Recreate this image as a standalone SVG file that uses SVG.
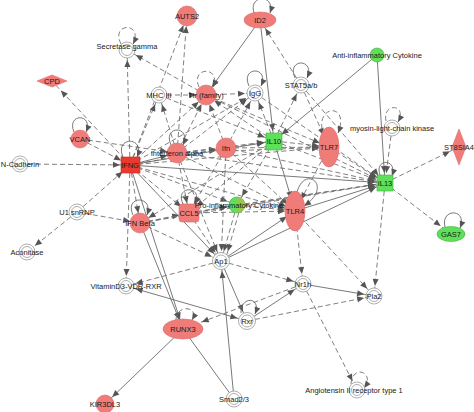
<svg xmlns="http://www.w3.org/2000/svg" width="474" height="412" viewBox="0 0 474 412">
<defs>
<style>
.s{stroke:#6a6a6a;stroke-width:0.9;fill:none}
.d{stroke:#727272;stroke-width:0.9;fill:none;stroke-dasharray:5 3}
.t{font-family:"Liberation Sans",Arial,sans-serif;font-size:7.5px;fill:#1a1a1a;text-anchor:middle}
.w{fill:#fff;stroke:#9a9a9a;stroke-width:0.8}
.wi{fill:none;stroke:#9a9a9a;stroke-width:0.8}
.r{fill:#f07c7a;stroke:#dd6a68;stroke-width:0.6}
.R{fill:#ea3a30;stroke:#c82a22;stroke-width:0.6}
.g{fill:#5fe05a;stroke:#3fae3a;stroke-width:0.6}
</style>
<marker id="a" markerUnits="userSpaceOnUse" viewBox="0 0 7 6" markerWidth="7" markerHeight="6" refX="17" refY="3" orient="auto" overflow="visible"><path d="M0,0 L7,3 L0,6 z" fill="#555"/></marker>
<marker id="b" markerUnits="userSpaceOnUse" viewBox="0 0 7 6" markerWidth="7" markerHeight="6" refX="20" refY="3" orient="auto" overflow="visible"><path d="M0,0 L7,3 L0,6 z" fill="#555"/></marker>
<marker id="c" markerUnits="userSpaceOnUse" viewBox="0 0 7 6" markerWidth="7" markerHeight="6" refX="27" refY="3" orient="auto" overflow="visible"><path d="M0,0 L7,3 L0,6 z" fill="#555"/></marker>
<marker id="z" markerUnits="userSpaceOnUse" viewBox="0 0 7 6" markerWidth="7" markerHeight="6" refX="7" refY="3" orient="auto" overflow="visible"><path d="M0,0 L7,3 L0,6 z" fill="#555"/></marker>
<marker id="as" markerUnits="userSpaceOnUse" viewBox="0 0 7 6" markerWidth="7" markerHeight="6" refX="-10" refY="3" orient="auto" overflow="visible"><path d="M7,0 L0,3 L7,6 z" fill="#555"/></marker>
</defs>
<rect width="474" height="412" fill="#fff"/>
<g id="connectors">
<line class="s" x1="260" y1="20" x2="274" y2="141" marker-end="url(#a)"/>
<line class="s" x1="260" y1="20" x2="206" y2="95" marker-end="url(#a)"/>
<line class="d" x1="301" y1="85" x2="260" y2="20" marker-end="url(#a)"/>
<line class="s" x1="377" y1="55" x2="274" y2="141" marker-end="url(#a)"/>
<line class="s" x1="377" y1="55" x2="385" y2="183" marker-end="url(#a)"/>
<line class="d" x1="130" y1="165" x2="127" y2="50" marker-end="url(#a)"/>
<line class="d" x1="130" y1="165" x2="52" y2="81" marker-end="url(#b)"/>
<line class="d" x1="130" y1="165" x2="187" y2="16" marker-end="url(#a)"/>
<line class="d" x1="177" y1="153" x2="187" y2="16" marker-end="url(#a)"/>
<line class="d" x1="206" y1="95" x2="127" y2="50" marker-end="url(#a)"/>
<line class="d" x1="80" y1="139" x2="130" y2="165" marker-end="url(#a)"/>
<line class="d" x1="20" y1="164" x2="130" y2="165" marker-end="url(#a)"/>
<line class="d" x1="77" y1="212" x2="130" y2="165" marker-end="url(#a)"/>
<line class="d" x1="77" y1="212" x2="27" y2="252" marker-end="url(#a)"/>
<line class="d" x1="77" y1="212" x2="140" y2="223" marker-end="url(#a)"/>
<line class="d" x1="130" y1="165" x2="126" y2="286" marker-end="url(#a)"/>
<line class="d" x1="130" y1="165" x2="159" y2="95" marker-end="url(#a)"/>
<line class="d" x1="130" y1="165" x2="206" y2="95" marker-end="url(#a)"/>
<line class="d" x1="130" y1="165" x2="255" y2="93" marker-end="url(#a)"/>
<line class="s" x1="130" y1="165" x2="177" y2="153" marker-end="url(#a)"/>
<line class="d" x1="130" y1="165" x2="226" y2="148" marker-end="url(#a)"/>
<line class="s" x1="130" y1="165" x2="274" y2="141" marker-end="url(#a)"/>
<line class="d" x1="130" y1="165" x2="329" y2="147" marker-end="url(#a)"/>
<line class="s" x1="130" y1="165" x2="385" y2="183" marker-end="url(#a)"/>
<line class="d" x1="130" y1="165" x2="189" y2="213" marker-end="url(#a)"/>
<line class="d" x1="130" y1="165" x2="237" y2="205" marker-end="url(#a)"/>
<line class="d" x1="130" y1="165" x2="295" y2="211" marker-end="url(#a)"/>
<line class="s" x1="130" y1="165" x2="221" y2="261" marker-end="url(#a)"/>
<line class="d" x1="130" y1="165" x2="140" y2="223" marker-end="url(#a)"/>
<line class="s" x1="130" y1="165" x2="183" y2="329" marker-end="url(#a)"/>
<line class="s" x1="140" y1="223" x2="183" y2="329" marker-end="url(#a)"/>
<line class="d" x1="80" y1="139" x2="177" y2="153" marker-end="url(#a)"/>
<line class="d" x1="159" y1="95" x2="206" y2="95" marker-end="url(#a)"/>
<line class="d" x1="206" y1="95" x2="255" y2="93" marker-end="url(#a)"/>
<line class="d" x1="159" y1="95" x2="274" y2="141" marker-end="url(#a)"/>
<line class="d" x1="177" y1="153" x2="206" y2="95" marker-end="url(#a)"/>
<line class="d" x1="177" y1="153" x2="255" y2="93" marker-end="url(#a)"/>
<line class="d" x1="177" y1="153" x2="226" y2="148" marker-end="url(#a)"/>
<line class="d" x1="177" y1="153" x2="274" y2="141" marker-end="url(#a)"/>
<line class="d" x1="177" y1="153" x2="329" y2="147" marker-end="url(#a)"/>
<line class="d" x1="177" y1="153" x2="385" y2="183" marker-end="url(#a)"/>
<line class="d" x1="177" y1="153" x2="189" y2="213" marker-end="url(#a)"/>
<line class="d" x1="177" y1="153" x2="295" y2="211" marker-end="url(#a)"/>
<line class="d" x1="177" y1="153" x2="221" y2="261" marker-end="url(#a)"/>
<line class="d" x1="177" y1="153" x2="159" y2="95" marker-end="url(#a)"/>
<line class="d" x1="226" y1="148" x2="274" y2="141" marker-end="url(#a)"/>
<line class="d" x1="226" y1="148" x2="329" y2="147" marker-end="url(#a)"/>
<line class="d" x1="226" y1="148" x2="385" y2="183" marker-end="url(#a)"/>
<line class="d" x1="226" y1="148" x2="206" y2="95" marker-end="url(#a)"/>
<line class="d" x1="226" y1="148" x2="255" y2="93" marker-end="url(#a)"/>
<line class="d" x1="226" y1="148" x2="189" y2="213" marker-end="url(#a)"/>
<line class="d" x1="226" y1="148" x2="295" y2="211" marker-end="url(#a)"/>
<line class="d" x1="226" y1="148" x2="221" y2="261" marker-end="url(#a)"/>
<line class="d" x1="274" y1="141" x2="329" y2="147" marker-end="url(#a)"/>
<line class="d" x1="274" y1="141" x2="385" y2="183" marker-end="url(#a)"/>
<line class="d" x1="274" y1="141" x2="301" y2="85" marker-end="url(#a)"/>
<line class="d" x1="274" y1="141" x2="255" y2="93" marker-end="url(#a)"/>
<line class="d" x1="274" y1="141" x2="206" y2="95" marker-end="url(#a)"/>
<line class="d" x1="274" y1="141" x2="189" y2="213" marker-end="url(#a)"/>
<line class="d" x1="274" y1="141" x2="237" y2="205" marker-end="url(#a)"/>
<line class="s" x1="274" y1="141" x2="295" y2="211" marker-end="url(#b)"/>
<line class="d" x1="274" y1="141" x2="140" y2="223" marker-end="url(#a)"/>
<line class="d" x1="329" y1="147" x2="385" y2="183" marker-end="url(#a)"/>
<line class="d" x1="301" y1="85" x2="329" y2="147" marker-end="url(#b)"/>
<line class="d" x1="301" y1="85" x2="385" y2="183" marker-end="url(#a)"/>
<line class="d" x1="206" y1="95" x2="385" y2="183" marker-end="url(#a)"/>
<line class="d" x1="206" y1="95" x2="329" y2="147" marker-end="url(#a)"/>
<line class="d" x1="392" y1="128" x2="385" y2="183" marker-end="url(#a)"/>
<line class="d" x1="385" y1="183" x2="459" y2="147" marker-end="url(#a)"/>
<line class="d" x1="385" y1="183" x2="451" y2="234" marker-end="url(#b)"/>
<line class="d" x1="385" y1="183" x2="374" y2="296" marker-end="url(#a)"/>
<line class="d" x1="189" y1="213" x2="385" y2="183" marker-end="url(#a)"/>
<line class="d" x1="237" y1="205" x2="385" y2="183" marker-end="url(#a)"/>
<line class="s" x1="295" y1="211" x2="385" y2="183" marker-end="url(#a)"/>
<line class="s" x1="221" y1="261" x2="385" y2="183" marker-end="url(#a)"/>
<line class="d" x1="140" y1="223" x2="385" y2="183" marker-end="url(#a)"/>
<line class="d" x1="189" y1="213" x2="237" y2="205" marker-end="url(#a)"/>
<line class="d" x1="189" y1="213" x2="295" y2="211" marker-end="url(#a)"/>
<line class="d" x1="189" y1="213" x2="221" y2="261" marker-end="url(#a)"/>
<line class="d" x1="140" y1="223" x2="189" y2="213" marker-end="url(#a)"/>
<line class="d" x1="140" y1="223" x2="221" y2="261" marker-end="url(#a)"/>
<line class="d" x1="140" y1="223" x2="237" y2="205" marker-end="url(#a)"/>
<line class="d" x1="237" y1="205" x2="221" y2="261" marker-end="url(#a)"/>
<line class="d" x1="241" y1="205" x2="225" y2="261" marker-end="url(#a)"/>
<line class="d" x1="237" y1="205" x2="295" y2="211" marker-end="url(#a)"/>
<line class="s" x1="221" y1="261" x2="295" y2="211" marker-end="url(#a)"/>
<line class="d" x1="295" y1="211" x2="303" y2="284" marker-end="url(#a)"/>
<line class="d" x1="221" y1="261" x2="126" y2="286" marker-end="url(#a)"/>
<line class="s" x1="234" y1="399" x2="221" y2="261" marker-end="url(#a)"/>
<line class="s" x1="221" y1="261" x2="247" y2="321" marker-end="url(#a)"/>
<line class="s" x1="126" y1="286" x2="247" y2="321" marker-end="url(#a)" marker-start="url(#as)"/>
<line class="s" x1="247" y1="321" x2="303" y2="284" marker-end="url(#a)"/>
<line class="d" x1="247" y1="321" x2="374" y2="296" marker-end="url(#a)"/>
<line class="d" x1="303" y1="284" x2="183" y2="329" marker-end="url(#c)"/>
<line class="s" x1="303" y1="284" x2="374" y2="296" marker-end="url(#a)"/>
<line class="d" x1="303" y1="284" x2="357" y2="390" marker-end="url(#a)"/>
<line class="s" x1="183" y1="329" x2="105" y2="404" marker-end="url(#a)"/>
<line class="s" x1="183" y1="329" x2="234" y2="399"/>
<line class="d" x1="329" y1="147" x2="295" y2="211" marker-end="url(#b)"/>
<line class="d" x1="255" y1="93" x2="385" y2="183" marker-end="url(#a)"/>
<line class="d" x1="295" y1="211" x2="374" y2="296" marker-end="url(#a)"/>
<line class="d" x1="221" y1="261" x2="303" y2="284" marker-end="url(#a)"/>
<!-- self loops -->
<path class="d" d="M121,44 C110,22 144,22 133,44" marker-end="url(#z)"/>
<path class="s" d="M249,86 C240,66 270,66 261,86" marker-end="url(#z)"/>
<path class="s" d="M295,78 C286,58 316,58 307,78" marker-end="url(#z)"/>
<path class="d" d="M199,87 C190,66 222,66 213,87" marker-end="url(#z)"/>
<path class="s" d="M254,13 C248,-6 276,-6 270,13" marker-end="url(#z)"/>
<path class="s" d="M74,132 C66,113 94,113 86,132" marker-end="url(#z)"/>
<path class="s" d="M123,157 C114,136 146,136 137,157" marker-end="url(#z)"/>
<path class="s" d="M171,145 C162,125 192,125 183,145" marker-end="url(#z)"/>
<path class="s" d="M133,215 C124,195 154,195 147,215" marker-end="url(#z)"/>
<path class="s" d="M183,204 C174,185 204,185 195,204" marker-end="url(#z)"/>
<path class="s" d="M297,192 C305,164 334,186 304,206" marker-end="url(#z)"/>
<path class="s" d="M380,175 C374,158 398,158 392,176" marker-end="url(#z)"/>
<path class="s" d="M445,227 C440,208 468,208 460,228" marker-end="url(#z)"/>
<path class="d" d="M351,384 C352,364 376,372 364,388" marker-end="url(#z)"/>
<path class="d" d="M176,320 C176,304 200,306 192,320" marker-end="url(#z)"/>
<path class="s" d="M241,313 C240,296 262,296 255,314" marker-end="url(#z)"/>
<path class="d" d="M386,121 C382,102 408,104 398,122" marker-end="url(#z)"/>
<path class="d" d="M322,129 C318,104 350,104 338,133" marker-end="url(#z)"/>
</g>
<g id="nodes">
<g id="n-AUTS2"><circle class="r" cx="187" cy="16" r="10"/><text class="t" x="187" y="18.7">AUTS2</text></g>
<g id="n-ID2"><ellipse class="r" cx="260" cy="20" rx="16" ry="8"/><text class="t" x="260" y="22.7">ID2</text></g>
<g id="n-SecretaseGamma"><circle class="w" cx="127" cy="50" r="8"/><circle class="wi" cx="127" cy="50" r="5.5"/><text class="t" x="127" y="49">Secretase gamma</text></g>
<g id="n-CPD"><path class="r" d="M37,81 L52,75 L67,81 L52,87 z"/><text class="t" x="52" y="83.7">CPD</text></g>
<g id="n-MHCIII"><circle class="w" cx="159" cy="95" r="8"/><circle class="wi" cx="159" cy="95" r="5.5"/><text class="t" x="159" y="97.7">MHC III</text></g>
<g id="n-TlrFamily"><circle class="r" cx="206" cy="95" r="10"/><text class="t" x="206" y="97.7">Tlr (family)</text></g>
<g id="n-IgG"><circle class="w" cx="255" cy="93" r="8"/><circle class="wi" cx="255" cy="93" r="5.5"/><text class="t" x="255" y="95.7">IgG</text></g>
<g id="n-STAT5ab"><circle class="w" cx="301" cy="85" r="8"/><circle class="wi" cx="301" cy="85" r="5.5"/><text class="t" x="301" y="87.7">STAT5a/b</text></g>
<g id="n-AntiInflammatory"><circle class="g" cx="377" cy="55" r="7"/><text class="t" x="377" y="57.7">Anti-inflammatory Cytokine</text></g>
<g id="n-MLCK"><circle class="w" cx="392" cy="128" r="8"/><circle class="wi" cx="392" cy="128" r="5.5"/><text class="t" x="392" y="130.7">myosin-light-chain kinase</text></g>
<g id="n-TLR7"><ellipse class="r" cx="329" cy="147" rx="10" ry="20"/><text class="t" x="329" y="149.7">TLR7</text></g>
<g id="n-ST8SIA4"><path class="r" d="M459,129 L466,147 L459,165 L452,147 z"/><text class="t" x="459" y="149.7">ST8SIA4</text></g>
<g id="n-IL13"><rect class="g" x="377" y="175" width="16" height="16"/><text class="t" x="385" y="185.7">IL13</text></g>
<g id="n-GAS7"><ellipse class="g" cx="451" cy="234" rx="14" ry="7.5"/><text class="t" x="451" y="236.7">GAS7</text></g>
<g id="n-IL10"><rect class="g" x="266" y="133" width="16" height="17"/><text class="t" x="274" y="143.7">IL10</text></g>
<g id="n-Ifn"><circle class="r" cx="226" cy="148" r="10"/><text class="t" x="226" y="150.7">Ifn</text></g>
<g id="n-InterferonAlpha"><circle class="r" cx="177" cy="153" r="10"/><text class="t" x="177" y="155.7">Interferon alpha</text></g>
<g id="n-IFNG"><rect class="R" x="121" y="157" width="19" height="16"/><text class="t" x="130" y="167.7">IFNG</text></g>
<g id="n-VCAN"><circle class="r" cx="80" cy="139" r="9"/><text class="t" x="80" y="141.7">VCAN</text></g>
<g id="n-NCadherin"><circle class="w" cx="20" cy="164" r="8"/><circle class="wi" cx="20" cy="164" r="5.5"/><text class="t" x="20" y="166.7">N-Cadherin</text></g>
<g id="n-U1snRNP"><circle class="w" cx="77" cy="212" r="8"/><circle class="wi" cx="77" cy="212" r="5.5"/><text class="t" x="77" y="214.7">U1 snRNP</text></g>
<g id="n-Aconitase"><circle class="w" cx="27" cy="252" r="8"/><circle class="wi" cx="27" cy="252" r="5.5"/><text class="t" x="27" y="254.7">Aconitase</text></g>
<g id="n-IFNBeta"><circle class="r" cx="140" cy="223" r="10"/><text class="t" x="140" y="225.7">IFN Beta</text></g>
<g id="n-CCL5"><rect class="r" x="179" y="204" width="20" height="18" rx="3"/><text class="t" x="189" y="215.7">CCL5</text></g>
<g id="n-ProInflammatory"><circle class="g" cx="237" cy="205" r="8"/><path d="M237,197 A8,8 0 0 1 237,213 z" fill="#c8b040" opacity="0.55"/><text class="t" x="239" y="207.7">Pro-inflammatory Cytokine</text></g>
<g id="n-TLR4"><ellipse class="r" cx="295" cy="211" rx="10" ry="20"/><text class="t" x="295" y="213.7">TLR4</text></g>
<g id="n-Ap1"><circle class="w" cx="221" cy="261" r="8.5"/><circle class="wi" cx="221" cy="261" r="6"/><text class="t" x="221" y="263.7">Ap1</text></g>
<g id="n-VitaminD3"><circle class="w" cx="126" cy="286" r="8"/><circle class="wi" cx="126" cy="286" r="5.5"/><text class="t" x="126" y="288.7">VitaminD3-VDR-RXR</text></g>
<g id="n-Nr1h"><circle class="w" cx="303" cy="284" r="8"/><circle class="wi" cx="303" cy="284" r="5.5"/><text class="t" x="303" y="286.7">Nr1h</text></g>
<g id="n-Pla2"><circle class="w" cx="374" cy="296" r="8"/><circle class="wi" cx="374" cy="296" r="5.5"/><text class="t" x="374" y="298.7">Pla2</text></g>
<g id="n-Rxr"><circle class="w" cx="247" cy="321" r="8.5"/><circle class="wi" cx="247" cy="321" r="6"/><text class="t" x="247" y="323.7">Rxr</text></g>
<g id="n-RUNX3"><ellipse class="r" cx="183" cy="329" rx="20" ry="10"/><text class="t" x="183" y="331.7">RUNX3</text></g>
<g id="n-Smad23"><circle class="w" cx="234" cy="399" r="8"/><circle class="wi" cx="234" cy="399" r="5.5"/><text class="t" x="234" y="401.7">Smad2/3</text></g>
<g id="n-AngiotensinII"><circle class="w" cx="357" cy="390" r="8"/><circle class="wi" cx="357" cy="390" r="5.5"/><text class="t" x="354" y="392.7">Angiotensin II receptor type 1</text></g>
<g id="n-KIR3DL3"><circle class="r" cx="105" cy="404" r="9"/><text class="t" x="105" y="406.7">KIR3DL3</text></g>
</g>
</svg>
